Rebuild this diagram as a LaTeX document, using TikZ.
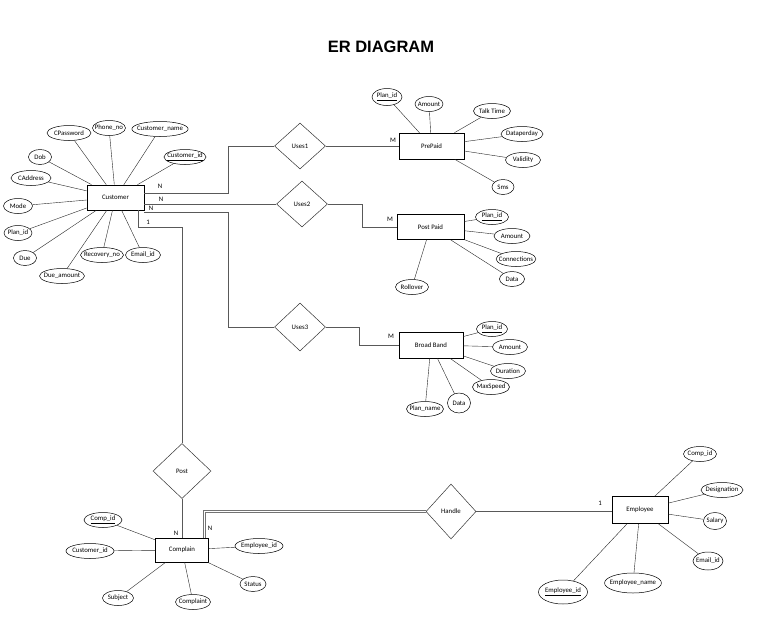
\documentclass[tikz,border=0pt]{standalone}
\usepackage{fontspec}
\setmainfont{Carlito}
\newfontfamily\titlefont{Liberation Sans}
\usepackage{tikz}
\usetikzlibrary{shapes.geometric}
\tikzstyle{entity} = [rectangle, draw = black, line width = 0.7pt, inner sep = 0pt,
  font = \fontsize{6.8}{7}\selectfont]
\tikzstyle{attr} = [ellipse, draw = black, line width = 0.5pt, inner xsep = -3pt,
  inner ysep = 1pt, minimum width = 24pt, minimum height = 15pt,
  font = \fontsize{6.8}{7}\selectfont]
\tikzstyle{relation} = [diamond, draw = black!80, line width = 0.5pt, inner sep = 0pt,
  minimum width = 51pt, minimum height = 46pt, font = \fontsize{6.8}{7}\selectfont]
\tikzstyle{card} = [inner sep = 0pt, font = \fontsize{6.8}{7}\selectfont]
\tikzstyle{attrline} = [draw = black!85, line width = 0.4pt]
\tikzstyle{link} = [draw = black!65, line width = 0.8pt]
\tikzstyle{doublelink} = [draw = black!55, line width = 1pt, double, double distance = 1pt]

\begin{document}
\begin{tikzpicture}[x = 1pt, y = -1pt]
  \useasboundingbox (0,0) rectangle (764,622);
  \node (title) at (381,47) {\titlefont\fontsize{16.5}{18}\selectfont\bfseries ER DIAGRAM};

  \node (customer) [entity, minimum width = 57pt, minimum height = 25pt] at (115.5,197.5) {Customer};
  \node (c-cpassword) [attr, minimum width = 44pt] at (69,133) {CPassword};
  \node (c-phone) [attr, minimum width = 33pt] at (109,128) {Phone\_no};
  \node (c-name) [attr, minimum width = 54pt] at (160,129) {Customer\_name};
  \node (c-id) [attr, minimum width = 42pt] at (185,157) {\underline{Customer\_id}};
  \node (c-dob) [attr, minimum width = 23pt] at (40,157) {Dob};
  \node (c-address) [attr, minimum width = 40pt] at (31,178) {CAddress};
  \node (c-mode) [attr, minimum width = 29pt] at (18,206) {Mode};
  \node (c-plan) [attr, minimum width = 28pt] at (18,233) {Plan\_id};
  \node (c-due) [attr, minimum width = 23pt] at (25,258) {Due};
  \node (c-dueamount) [attr, minimum width = 45pt] at (62,276) {Due\_amount};
  \node (c-recovery) [attr, minimum width = 43pt] at (102,255) {Recovery\_no};
  \node (c-email) [attr, minimum width = 35pt] at (143,255) {Email\_id};

  \node (uses1) [relation] at (300,146) {Uses1};
  \node (uses2) [relation] at (302,204) {Uses2};
  \node (uses3) [relation, minimum height = 48pt] at (300,327) {Uses3};
  \node (post) [relation, minimum width = 58pt, minimum height = 55pt] at (182,471) {Post};
  \node (handle) [relation, minimum width = 50pt, minimum height = 55pt] at (451,511.5) {Handle};

  \node (prepaid) [entity, minimum width = 65pt, minimum height = 26pt] at (431.5,146) {PrePaid};
  \node (pre-plan) [attr, minimum width = 30pt, minimum height = 17pt] at (387,97) {\underline{Plan\_id}};
  \node (pre-amount) [attr, minimum width = 28pt] at (429,104) {Amount};
  \node (pre-talk) [attr, minimum width = 37pt] at (492,111) {Talk Time};
  \node (pre-dataperday) [attr, minimum width = 42pt] at (522,134) {Dataperday};
  \node (pre-validity) [attr, minimum width = 35pt] at (523,160) {Validity};
  \node (pre-sms) [attr, minimum width = 22pt] at (503,187) {Sms};

  \node (postpaid) [entity, minimum width = 67pt, minimum height = 25pt] at (430.5,227) {Post Paid};
  \node (pp-plan) [attr, minimum width = 33pt] at (492,217) {\underline{Plan\_id}};
  \node (pp-amount) [attr, minimum width = 36pt] at (512,236) {Amount};
  \node (pp-connections) [attr, minimum width = 39pt] at (516,259) {Connections};
  \node (pp-data) [attr, minimum width = 25pt] at (512,279) {Data};
  \node (pp-rollover) [attr, minimum width = 33pt] at (412,287) {Rollover};

  \node (broadband) [entity, minimum width = 64pt, minimum height = 26pt] at (431,345) {Broad Band};
  \node (bb-plan) [attr, minimum width = 31pt] at (492,329) {\underline{Plan\_id}};
  \node (bb-amount) [attr, minimum width = 35pt] at (510,347) {Amount};
  \node (bb-duration) [attr, minimum width = 35pt] at (508,371) {Duration};
  \node (bb-maxspeed) [attr, minimum width = 37pt] at (491,387) {MaxSpeed};
  \node (bb-data) [attr, minimum width = 23pt, minimum height = 20pt] at (459,403) {Data};
  \node (bb-planname) [attr, minimum width = 37pt] at (425,409) {Plan\_name};

  \node (complain) [entity, minimum width = 53pt, minimum height = 24pt] at (182,550) {Complain};
  \node (cm-compid) [attr, minimum width = 38pt] at (103,520) {\underline{Comp\_id}};
  \node (cm-custid) [attr, minimum width = 48pt] at (90,551) {Customer\_id};
  \node (cm-subject) [attr, minimum width = 31pt] at (118,598) {Subject};
  \node (cm-complaint) [attr, minimum width = 35pt] at (193,602) {Complaint};
  \node (cm-status) [attr, minimum width = 26pt] at (253,584) {Status};
  \node (cm-empid) [attr, minimum width = 48pt] at (259,546) {Employee\_id};

  \node (employee) [entity, minimum width = 56pt, minimum height = 27pt] at (640,510) {Employee};
  \node (e-compid) [attr, minimum width = 33pt] at (700,454) {Comp\_id};
  \node (e-designation) [attr, minimum width = 42pt] at (722,490) {Designation};
  \node (e-salary) [attr, minimum width = 23pt, minimum height = 17pt] at (715,521) {Salary};
  \node (e-email) [attr, minimum width = 30pt, minimum height = 18pt] at (708,561) {Email\_id};
  \node (e-name) [attr, minimum width = 50pt, minimum height = 20pt] at (633,583) {Employee\_name};
  \node (e-id) [attr, minimum width = 49pt, minimum height = 24pt] at (563,592) {\underline{Employee\_id}};

  \node (n-uses1) [card] at (160,186) {N};
  \node (n-uses2) [card] at (161,199) {N};
  \node (n-uses3) [card] at (151,208) {N};
  \node (one-post) [card] at (148,222) {1};
  \node (m-uses1) [card] at (393,140) {M};
  \node (m-uses2) [card] at (390,219) {M};
  \node (m-uses3) [card] at (391,336) {M};
  \node (n-post) [card] at (176,533) {N};
  \node (n-handle) [card] at (210,528) {N};
  \node (one-handle) [card] at (600,503) {1};

  \coordinate (bend1) at (228,193);
  \coordinate (bend2) at (362,227);
  \coordinate (bend3) at (228,212);
  \coordinate (bend4) at (182,227);
  \coordinate (bend5) at (359,345);
  \coordinate (bend6) at (204.5,511.5);

  \draw [link] ([yshift = 4.5pt]customer.east) -- (bend1) |- (uses1.west);
  \draw [link] (customer.east |- uses2.west) -- (uses2.west);
  \draw [link] (customer.south east |- bend3) -- (bend3) |- (uses3.west);
  \draw [link] ([xshift = -6pt]customer.south east) |- (bend4) -- (post.north);
  \draw [link] (uses1.east) -- (prepaid.west);
  \draw [link] (uses2.east) -| (bend2) -- (postpaid.west);
  \draw [link] (uses3.east) -| (bend5) -- (broadband.west);
  \draw [link] (post.south) -- (complain.north);
  \draw [doublelink] (complain.north -| bend6) -- (bend6) -- (handle.west);
  \draw [link] (handle.east) -- (employee.west |- handle.east);

  \draw [attrline] (c-cpassword) -- (customer);
  \draw [attrline] (c-phone) -- (customer);
  \draw [attrline] (c-name) -- (customer);
  \draw [attrline] (c-id) -- (customer);
  \draw [attrline] (c-dob) -- (customer);
  \draw [attrline] (c-address) -- (customer);
  \draw [attrline] (c-mode) -- (customer);
  \draw [attrline] (c-plan) -- (customer);
  \draw [attrline] (c-due) -- (customer);
  \draw [attrline] (c-dueamount) -- (customer);
  \draw [attrline] (c-recovery) -- (customer);
  \draw [attrline] (c-email) -- (customer);

  \draw [attrline] (pre-plan) -- (prepaid);
  \draw [attrline] (pre-amount) -- (prepaid);
  \draw [attrline] (pre-talk) -- (prepaid);
  \draw [attrline] (pre-dataperday) -- (prepaid);
  \draw [attrline] (pre-validity) -- (prepaid);
  \draw [attrline] (pre-sms) -- (prepaid);

  \draw [attrline] (pp-plan) -- (postpaid);
  \draw [attrline] (pp-amount) -- (postpaid);
  \draw [attrline] (pp-connections) -- (postpaid);
  \draw [attrline] (pp-data) -- (postpaid);
  \draw [attrline] (pp-rollover) -- (postpaid);

  \draw [attrline] (bb-plan) -- (broadband);
  \draw [attrline] (bb-amount) -- (broadband);
  \draw [attrline] (bb-duration) -- (broadband);
  \draw [attrline] (bb-maxspeed) -- (broadband);
  \draw [attrline] (bb-data) -- (broadband);
  \draw [attrline] (bb-planname) -- (broadband);

  \draw [attrline] (cm-compid) -- (complain);
  \draw [attrline] (cm-custid) -- (complain);
  \draw [attrline] (cm-subject) -- (complain);
  \draw [attrline] (cm-complaint) -- (complain);
  \draw [attrline] (cm-status) -- (complain);
  \draw [attrline] (cm-empid) -- (complain);

  \draw [attrline] (e-compid) -- (employee);
  \draw [attrline] (e-designation) -- (employee);
  \draw [attrline] (e-salary) -- (employee);
  \draw [attrline] (e-email) -- (employee);
  \draw [attrline] (e-name) -- (employee);
  \draw [attrline] (e-id) -- (employee);
\end{tikzpicture}
\end{document}
